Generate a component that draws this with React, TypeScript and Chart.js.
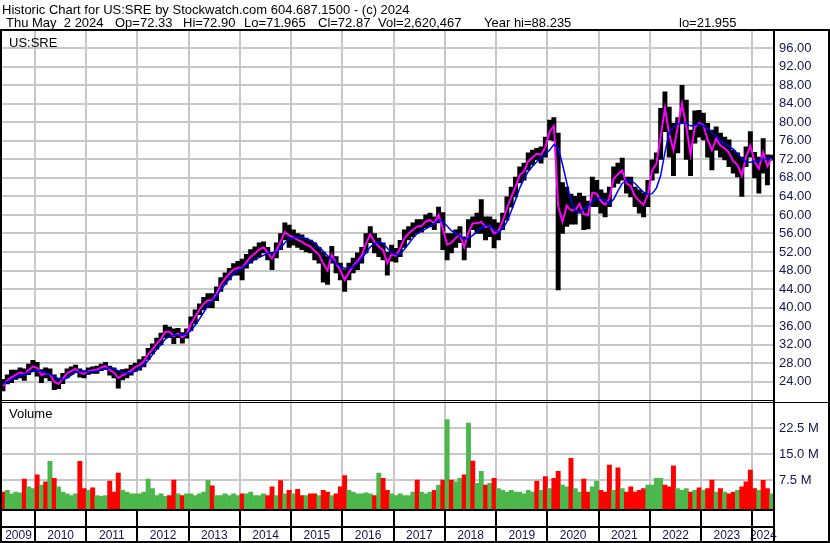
import React, { useEffect, useRef } from 'react';
import { Chart, registerables } from 'chart.js';

Chart.register(...registerables);

// ---------- data ----------
const startYear = 2009;
const startMonth = 5; // first month shown: May 2009 (monthly values)

const yearLabels = [2009, 2010, 2011, 2012, 2013, 2014, 2015, 2016, 2017, 2018, 2019, 2020, 2021, 2022, 2023, 2024];

const priceLow = [
  22.0, 23.5, 23.8, 24.5, 24.8, 24.3, 25.5, 26.2,
  25.2, 23.8, 24.8, 24.2, 22.3, 22.5, 23.6, 24.8, 25.5, 26.0, 25.0, 24.8,
  25.6, 25.8, 25.8, 26.4, 26.6, 25.4, 24.8, 22.6, 24.4, 24.8, 25.4, 26.2,
  26.5, 27.2, 28.8, 30.0, 31.0, 32.0, 33.5, 33.5, 32.2, 33.5, 32.3, 33.4,
  35.0, 36.5, 38.5, 39.5, 40.0, 40.0, 41.5, 43.5, 45.0, 46.0, 47.0, 47.0,
  46.0, 48.5, 49.6, 50.3, 51.0, 51.8, 50.3, 48.2, 50.7, 52.5, 54.6, 53.0,
  53.5, 53.0, 52.5, 52.0, 51.8, 50.3, 49.6, 45.5, 45.0, 49.6, 47.5, 46.0,
  43.5, 46.0, 47.5, 48.2, 49.6, 51.8, 54.0, 51.8, 51.0, 50.3, 47.0, 50.0,
  49.8, 51.0, 53.0, 54.6, 55.3, 56.0, 56.3, 57.2, 57.4, 56.8, 58.3, 52.5,
  50.3, 51.8, 53.0, 54.0, 50.3, 53.0, 56.8, 56.0, 56.0, 54.6, 55.3, 52.9,
  54.6, 56.8, 58.9, 61.7, 63.9, 66.9, 67.5, 69.7, 70.8, 71.9, 71.2, 72.5,
  76.2, 76.0, 43.8, 56.0, 57.5, 58.0, 58.0, 60.4, 56.8, 57.0, 61.8, 61.8,
  60.4, 59.6, 61.8, 66.0, 66.8, 67.5, 64.7, 63.9, 61.8, 60.4, 59.6, 61.8,
  67.5, 69.0, 72.0, 78.0, 72.5, 68.5, 73.4, 79.8, 72.0, 68.5, 75.5, 76.8,
  76.2, 72.5, 69.7, 74.0, 72.5, 71.9, 70.4, 69.0, 68.2, 64.0, 70.4, 72.5,
  68.0, 64.7, 69.0, 66.5, 71.8,
];

const priceHigh = [
  24.5, 25.5, 26.5, 26.5, 27.0, 26.8, 27.8, 28.6,
  28.2, 26.6, 27.0, 26.8, 25.5, 24.8, 25.8, 26.8, 27.2, 27.6, 26.8, 26.4,
  27.0, 27.2, 27.4, 27.8, 28.2, 27.4, 27.0, 26.4, 26.6, 26.8, 27.6, 28.0,
  28.8, 29.4, 31.2, 32.2, 33.4, 34.5, 36.2, 35.8, 35.4, 35.5, 34.6, 35.4,
  38.0, 39.5, 40.8, 42.2, 43.0, 43.0, 44.5, 46.5, 47.5, 48.5, 49.5, 50.0,
  50.5, 51.5, 52.5, 53.1, 54.0, 54.2, 53.0, 51.8, 54.0, 56.0, 58.3, 57.8,
  56.8, 56.0, 55.7, 55.0, 54.6, 54.0, 53.0, 52.0, 51.0, 53.2, 51.0, 49.6,
  48.2, 49.6, 50.7, 51.8, 53.0, 56.0, 57.5, 56.0, 55.0, 54.0, 52.0, 53.5,
  52.8, 54.5, 56.8, 57.5, 58.3, 59.0, 59.0, 60.0, 60.4, 59.6, 61.7, 60.5,
  56.0, 56.0, 56.8, 57.5, 55.3, 59.0, 59.6, 60.4, 63.3, 59.6, 59.6, 59.0,
  58.3, 60.4, 63.9, 66.0, 68.2, 70.4, 71.2, 73.4, 74.0, 74.4, 74.7, 76.8,
  80.5, 81.0, 77.7, 67.0, 66.0, 64.5, 64.0, 64.7, 64.0, 63.0, 68.2, 67.5,
  65.4, 64.7, 66.0, 70.4, 71.2, 72.3, 68.2, 68.2, 66.0, 65.4, 64.7, 67.5,
  71.9, 73.4, 83.0, 86.6, 83.3, 79.8, 81.0, 88.0, 84.8, 78.3, 82.5, 82.6,
  82.0, 79.8, 78.3, 79.0, 77.7, 76.8, 76.2, 74.0, 73.4, 72.5, 74.7, 78.0,
  73.5, 72.5, 76.5, 73.0, 72.9,
];

// short moving average (magenta)
const fastAverage = [
  23.0, 24.3, 25.0, 25.5, 26.0, 25.6, 26.5, 27.3,
  27.0, 25.4, 25.8, 25.6, 24.0, 23.5, 24.6, 25.8, 26.3, 26.8, 26.0, 25.7,
  26.3, 26.5, 26.6, 27.1, 27.4, 26.5, 26.0, 24.8, 25.4, 25.8, 26.4, 27.2,
  27.6, 28.4, 29.9, 31.0, 32.2, 33.2, 34.8, 34.8, 33.8, 34.4, 33.6, 34.3,
  36.5, 38.0, 39.6, 40.8, 41.6, 41.6, 43.0, 45.0, 46.2, 47.3, 48.2, 48.6,
  48.6, 49.8, 51.0, 51.7, 52.5, 53.0, 51.8, 50.6, 52.3, 54.2, 56.3, 55.6,
  55.2, 54.6, 54.2, 53.6, 53.2, 52.2, 51.4, 49.5, 48.0, 51.4, 49.6, 48.0,
  46.0, 47.6, 49.0, 50.0, 51.3, 53.8, 55.8, 54.2, 53.2, 52.4, 49.6, 51.5,
  51.2, 52.8, 55.0, 56.0, 56.8, 57.5, 57.6, 58.6, 58.9, 58.2, 60.0, 57.0,
  53.6, 54.0, 55.0, 55.8, 53.0, 56.2, 58.2, 58.2, 58.5, 57.4, 57.6, 56.0,
  56.6, 58.6, 61.4, 63.9, 66.0, 68.6, 69.4, 71.6, 72.4, 73.2, 73.0, 74.6,
  78.0, 79.2, 62.0, 58.5, 62.0, 61.0, 61.0, 62.4, 60.2, 60.0, 64.8, 64.6,
  63.0, 62.2, 63.6, 67.8, 68.8, 69.6, 66.8, 66.2, 64.0, 63.0, 62.2, 64.4,
  69.6, 71.0, 77.0, 83.0, 77.5, 74.0, 79.0, 84.0, 79.0, 73.0, 79.0, 79.8,
  79.4, 76.2, 74.0, 76.5, 75.0, 74.4, 73.4, 71.6, 70.8, 68.5, 72.5, 75.0,
  71.5, 70.0, 73.5, 70.5, 72.3,
];

// long moving average (blue)
const slowAverage = [
  23.5, 24.0, 24.5, 25.0, 25.3, 25.6, 26.0, 26.2,
  26.4, 26.2, 25.9, 25.6, 25.2, 24.6, 24.4, 24.8, 25.4, 26.0, 26.2, 26.2,
  26.1, 26.2, 26.3, 26.5, 26.8, 27.0, 26.8, 26.3, 26.0, 25.9, 25.9, 26.3,
  26.8, 27.6, 28.6, 29.8, 31.0, 32.0, 33.2, 33.8, 34.0, 34.1, 34.1, 34.3,
  35.0, 36.2, 37.5, 39.0, 40.5, 41.5, 42.5, 43.8, 45.0, 46.2, 47.2, 48.0,
  48.6, 49.2, 49.8, 50.4, 50.8, 51.3, 51.7, 51.9, 52.0, 52.8, 54.0, 54.8,
  55.0, 55.3, 55.2, 54.9, 54.5, 54.0, 53.0, 52.2, 51.2, 50.5, 49.6, 48.9,
  48.5, 48.5, 48.8, 49.6, 50.6, 51.8, 53.1, 53.8, 54.2, 53.8, 52.8, 51.8,
  51.4, 51.6, 52.6, 53.8, 55.0, 56.0, 56.6, 57.0, 57.6, 58.2, 58.9, 58.6,
  57.6, 56.6, 56.0, 55.5, 54.8, 54.9, 55.6, 56.3, 57.2, 57.8, 57.5, 56.9,
  56.2, 57.0, 58.5, 60.8, 63.2, 65.8, 67.8, 69.4, 70.5, 71.5, 72.3, 73.0,
  74.0, 75.2, 74.5, 71.0, 67.0, 63.0, 61.0, 60.5, 61.2, 61.8, 62.8, 63.6,
  63.6, 63.2, 62.4, 63.4, 65.2, 66.8, 67.5, 67.4, 66.8, 65.8, 64.9, 64.5,
  64.6, 65.8, 68.5, 73.5, 77.8, 79.0, 79.6, 79.8, 79.8, 79.2, 79.4, 79.6,
  79.2, 78.6, 77.8, 77.0, 76.0, 75.4, 74.8, 74.2, 73.2, 72.2, 71.4, 71.4,
  71.6, 71.8, 72.0, 72.2, 72.3,
];

// volume in millions of shares
const volumeMillions = [
  4.0, 4.5, 3.5, 4.0, 3.8, 7.8, 5.5, 5.0,
  9.0, 6.0, 7.0, 12.9, 8.0, 5.5, 4.0, 3.5, 3.0, 3.5, 12.9, 5.0,
  4.5, 5.2, 3.0, 2.8, 3.0, 7.2, 4.0, 9.5, 4.5, 4.0, 3.5, 3.5,
  3.5, 4.0, 7.8, 5.0, 3.0, 3.5, 2.8, 3.0, 7.5, 3.5, 3.0, 3.5,
  3.5, 3.0, 3.5, 4.0, 7.4, 5.8, 3.0, 3.0, 3.5, 3.0, 3.5, 3.0,
  3.5, 3.5, 4.0, 3.0, 3.0, 3.5, 3.0, 5.5, 3.0, 7.3, 3.5, 4.5,
  3.5, 4.8, 3.0, 3.0, 3.5, 3.5, 3.0, 4.5, 4.0, 3.0, 3.5, 5.5,
  8.8, 4.5, 4.0, 3.5, 3.5, 3.8, 3.5, 3.0, 9.5, 8.0, 4.5, 3.5,
  3.0, 3.5, 3.0, 3.0, 4.0, 7.5, 4.0, 3.5, 4.0, 4.5, 6.0, 7.5,
  25.0, 7.5, 7.0, 8.0, 9.0, 24.0, 13.0, 6.5, 10.0, 6.0, 6.5, 8.0,
  5.0, 4.5, 4.0, 4.5, 4.0, 4.0, 3.5, 4.5, 4.0, 7.2, 4.5, 8.5,
  5.0, 8.0, 10.0, 6.0, 5.5, 13.8, 5.0, 4.0, 7.8, 4.0, 5.5, 7.2,
  4.5, 4.0, 11.8, 4.5, 11.0, 5.0, 4.0, 5.5, 4.0, 4.5, 5.0, 6.0,
  6.0, 8.0, 8.0, 6.0, 5.5, 11.6, 5.0, 4.5, 5.0, 4.0, 4.5, 5.2,
  4.5, 5.0, 7.5, 4.0, 5.0, 4.0, 3.5, 4.0, 4.5, 5.5, 7.0, 10.4,
  5.0, 4.5, 7.4, 5.0, 3.5,
];

// g = up period (green volume), r = down period (red volume)
const volumeDirection = [
  'rggggrgg',
  'rgrgrgggggrr',
  'grgggrrrgggg',
  'gggggggrrgrg',
  'gggggrgggggg',
  'rgggggrrgrgr',
  'grrgrrgrrgrr',
  'rggggggrgrrg',
  'gggggrgggrgr',
  'grggrgrggrgr',
  'gggggggggrgr',
  'grrggrggrrgg',
  'rrrgrgrrrrrg',
  'gggrrrgggrgr',
  'grrgrgrrgrrr',
  'rgrrg',
].join('');

const priceTicks = [24, 28, 32, 36, 40, 44, 48, 52, 56, 60, 64, 68, 72, 76, 80, 84, 88, 92, 96];
const volumeTicks = [7.5, 15, 22.5];

const titleLine1 = 'Historic Chart for US:SRE by Stockwatch.com 604.687.1500 - (c) 2024';
const titleLine2 = ['Thu May  2 2024', 'Op=72.33', 'Hi=72.90', 'Lo=71.965', 'Cl=72.87', 'Vol=2,620,467', 'Year hi=88.235', 'lo=21.955'];
const priceLabel = 'US:SRE';
const volumeLabel = 'Volume';

// ---------- layout constants ----------
const X_MIN = 2009.356;
const X_MAX = 2024.42;
const P_MIN = 19.73;
const P_MAX = 99.71;
const V_MIN = -0.91;
const V_MAX = 30.27;
const FONT = 'Arial, "Liberation Sans", sans-serif';
const LABEL_COLOR = '#141450';
const GRID_COLOR = '#c8c8c8';

const noPadding = (s: any) => {
  s.paddingLeft = 0;
  s.paddingRight = 0;
  s.paddingTop = 0;
  s.paddingBottom = 0;
};

const framePlugin = {
  id: 'stockFrame',
  afterDraw(chart: any) {
    const ctx: CanvasRenderingContext2D = chart.ctx;
    const xs = chart.scales.x;
    ctx.save();
    ctx.fillStyle = '#000';
    ctx.font = `13px ${FONT}`;
    ctx.textBaseline = 'alphabetic';
    ctx.textAlign = 'left';
    ctx.fillText(titleLine1, 2, 13.5);
    const line2X = [6, 115, 183, 244, 318, 378, 484, 679];
    titleLine2.forEach((s, i) => ctx.fillText(s, line2X[i], 27));
    ctx.fillText(priceLabel, 9, 46.5);
    ctx.fillText(volumeLabel, 9, 418);

    // frame
    ctx.fillRect(0, 29, 830, 2);
    ctx.fillRect(0, 29, 2, 514);
    ctx.fillRect(773, 29, 2, 514);
    ctx.fillRect(828, 29, 2, 514);
    ctx.fillRect(0, 400, 775, 1);
    ctx.fillRect(0, 402, 830, 1);
    ctx.fillRect(0, 509, 775, 2);
    ctx.fillRect(0, 526, 775, 2);
    ctx.fillRect(0, 541, 830, 2);
    yearLabels.slice(1).forEach((y) => {
      const px = Math.round(xs.getPixelForValue(y));
      ctx.fillRect(px - 1, 527, 2, 15);
    });
    ctx.restore();
  },
};

export default function App() {
  const ref = useRef<HTMLCanvasElement>(null);

  useEffect(() => {
    document.body.style.margin = '0';
    const canvas = ref.current;
    if (!canvas) return;
    const t = (i: number) => startYear + (startMonth - 1 + i + 0.5) / 12;

    const rangeBars = priceLow.map((lo, i) => ({ x: t(i), y: [lo, priceHigh[i]] }));
    const fastLine = fastAverage.map((v, i) => ({ x: t(i), y: v }));
    const slowLine = slowAverage.map((v, i) => ({ x: t(i), y: v }));
    const volBars = volumeMillions.map((v, i) => ({ x: t(i), y: v }));
    const volColors = volumeMillions.map((_, i) => (volumeDirection[i] === 'g' ? '#4cb84c' : '#ff0000'));

    Chart.defaults.font.family = FONT;

    const chart = new Chart(canvas, {
      type: 'bar',
      data: {
        datasets: [
          {
            type: 'line',
            label: 'slow',
            data: slowLine as any,
            borderColor: '#0000ff',
            borderWidth: 1.5,
            pointRadius: 0,
            tension: 0,
            xAxisID: 'x',
            yAxisID: 'yPrice',
            order: 0,
          },
          {
            type: 'line',
            label: 'fast',
            data: fastLine as any,
            borderColor: '#ff00ff',
            borderWidth: 2,
            pointRadius: 0,
            tension: 0,
            xAxisID: 'x',
            yAxisID: 'yPrice',
            order: 1,
          },
          {
            type: 'bar',
            label: 'range',
            data: rangeBars as any,
            backgroundColor: '#000000',
            grouped: false,
            barPercentage: 1,
            categoryPercentage: 1,
            xAxisID: 'x',
            yAxisID: 'yPrice',
            order: 2,
          },
          {
            type: 'bar',
            label: 'volume',
            data: volBars as any,
            backgroundColor: volColors,
            base: V_MIN,
            grouped: false,
            barPercentage: 1,
            categoryPercentage: 1,
            xAxisID: 'x',
            yAxisID: 'yVol',
            order: 3,
          } as any,
        ],
      },
      options: {
        responsive: false,
        devicePixelRatio: 1,
        animation: false,
        events: [],
        layout: { padding: { left: 2, right: 0, top: 31, bottom: 0 } },
        plugins: {
          legend: { display: false },
          tooltip: { enabled: false },
          title: { display: false },
        },
        scales: {
          x: {
            type: 'linear',
            position: 'bottom',
            offset: false,
            min: X_MIN,
            max: X_MAX,
            bounds: 'data',
            weight: 0,
            grid: { offset: false, color: GRID_COLOR, lineWidth: 2, drawTicks: true, tickLength: 18, tickColor: '#000', tickWidth: 2 },
            border: { display: false },
            ticks: { display: false },
            afterBuildTicks: (s: any) => {
              s.ticks = yearLabels.slice(1).map((v) => ({ value: v }));
            },
            afterFit: (s: any) => {
              s.height = 18;
              noPadding(s);
            },
          },
          xl: {
            type: 'linear',
            position: 'bottom',
            offset: false,
            min: X_MIN,
            max: X_MAX,
            bounds: 'data',
            weight: 1,
            grid: { offset: false, display: false, drawTicks: false },
            border: { display: false },
            ticks: {
              display: true,
              autoSkip: false,
              maxRotation: 0,
              minRotation: 0,
              padding: 1,
              color: LABEL_COLOR,
              font: { size: 12, family: FONT },
              callback: (v: any) => String(Math.floor(Number(v))),
            },
            afterBuildTicks: (s: any) => {
              s.ticks = yearLabels.map((y) => ({ value: (Math.max(y, X_MIN) + Math.min(y + 1, X_MAX)) / 2 }));
            },
            afterFit: (s: any) => {
              s.height = 16;
              noPadding(s);
            },
          },
          yPrice: {
            type: 'linear',
            position: 'right',
            stack: 'panels',
            stackWeight: 370.5,
            min: P_MIN,
            max: P_MAX,
            bounds: 'data',
            grid: { color: GRID_COLOR, lineWidth: 2, drawTicks: false },
            border: { display: false },
            ticks: {
              autoSkip: false,
              padding: 5,
              color: LABEL_COLOR,
              font: { size: 13, family: FONT },
              callback: (v: any) => Number(v).toFixed(2),
            },
            afterBuildTicks: (s: any) => {
              s.ticks = priceTicks.map((v) => ({ value: v }));
            },
            afterFit: (s: any) => {
              s.width = 56;
              noPadding(s);
            },
          },
          yVol: {
            type: 'linear',
            position: 'right',
            stack: 'panels',
            stackWeight: 107.5,
            min: V_MIN,
            max: V_MAX,
            bounds: 'data',
            grid: { color: GRID_COLOR, lineWidth: 2, drawTicks: false },
            border: { display: false },
            ticks: {
              autoSkip: false,
              padding: 5,
              color: LABEL_COLOR,
              font: { size: 13, family: FONT },
              callback: (v: any) => Number(v).toFixed(1) + ' M',
            },
            afterBuildTicks: (s: any) => {
              s.ticks = volumeTicks.map((v) => ({ value: v }));
            },
            afterFit: (s: any) => {
              s.width = 56;
              noPadding(s);
            },
          },
        } as any,
      },
      plugins: [framePlugin],
    });

    return () => chart.destroy();
  }, []);

  return <canvas ref={ref} width={830} height={543} style={{ display: 'block', width: 830, height: 543 }} />;
}
